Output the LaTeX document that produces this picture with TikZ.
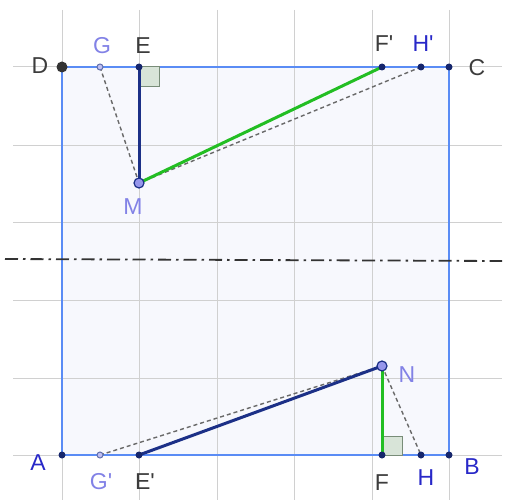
\documentclass[tikz,border=0pt]{standalone}
\usepackage{fontspec}
\setmainfont{Liberation Sans}
\definecolor{gridc}{RGB}{208,208,208}
\definecolor{sqline}{RGB}{90,140,245}
\definecolor{sqfill}{RGB}{247,248,253}
\definecolor{navy}{RGB}{28,48,135}
\definecolor{greenl}{RGB}{35,190,35}
\definecolor{dashc}{RGB}{105,105,105}
\definecolor{labdark}{RGB}{60,60,60}
\definecolor{labpurple}{RGB}{130,130,230}
\definecolor{labblue}{RGB}{40,40,200}
\definecolor{ptfill}{RGB}{150,150,235}
\definecolor{ranglefill}{RGB}{216,228,216}
\definecolor{rangledraw}{RGB}{120,140,120}
\tikzset{
  gridline/.style={draw=gridc, line width=1pt},
  sqborder/.style={draw=sqline, line width=2pt},
  navyseg/.style={draw=navy, line width=3pt},
  greenseg/.style={draw=greenl, line width=3pt},
  dashseg/.style={draw=dashc, line width=1.4pt, dash pattern=on 4pt off 3pt},
  axisline/.style={draw=black!80, line width=1.8pt, dash pattern=on 13pt off 5pt on 2.5pt off 5pt},
  dotsmall/.style={circle, fill=navy!80!black, inner sep=0pt, minimum size=7pt},
  dotbig/.style={circle, fill=black!80, inner sep=0pt, minimum size=11pt},
  dotpt/.style={circle, fill=ptfill, draw=navy, line width=1.2pt, inner sep=0pt, minimum size=10pt},
  dotopen/.style={circle, fill=ptfill!60, draw=navy!70, line width=1pt, inner sep=0pt, minimum size=6pt},
  rangle/.style={fill=ranglefill, draw=rangledraw, line width=1pt},
  lab/.style={inner sep=0pt, font=\fontsize{23}{27}\selectfont},
  labd/.style={lab, text=labdark},
  labp/.style={lab, text=labpurple},
  labb/.style={lab, text=labblue}
}
\begin{document}
\begin{tikzpicture}[x=1pt, y=-1pt]
\useasboundingbox (0,0) rectangle (505,500);
% points
\coordinate (A) at (62,455);
\coordinate (B) at (449,455);
\coordinate (C) at (449,67);
\coordinate (D) at (62,67);
\coordinate (G) at (100,67);
\coordinate (E) at (139,67);
\coordinate (Fp) at (382,67);
\coordinate (Hp) at (421,67);
\coordinate (M) at (139,183);
\coordinate (N) at (382,366);
\coordinate (F) at (382,455);
\coordinate (H) at (421,455);
\coordinate (Gp) at (100,455);
\coordinate (Ep) at (139,455);
\coordinate (axL) at (5,259);
\coordinate (axR) at (502,261);
% fill
\fill[sqfill] (A) rectangle (C);
% grid
\foreach \x in {62,139,217,294,372,449} \draw[gridline] (\x,10) -- (\x,500);
\foreach \y in {67,145,222,300,378,455} \draw[gridline] (13,\y) -- (502,\y);
% square
\draw[sqborder] (A) -- (B) -- (C) -- (D) -- cycle;
% axis
\draw[axisline] (axL) -- (axR);
% right angles
\draw[rangle] (E) rectangle ++(20,20);
\draw[rangle] (F) rectangle ++(20,-19);
% dashed
\draw[dashseg] (G) -- (M);
\draw[dashseg] (M) -- (Hp);
\draw[dashseg] (Gp) -- (N);
\draw[dashseg] (N) -- (H);
% segments
\draw[navyseg] (E) -- (M);
\draw[greenseg] (M) -- (Fp);
\draw[navyseg] (Ep) -- (N);
\draw[greenseg] (F) -- (N);
% dots
\node[dotbig] (nD) at (D) {};
\node[dotsmall] (nA) at (A) {};
\node[dotsmall] (nB) at (B) {};
\node[dotsmall] (nC) at (C) {};
\node[dotsmall] (nE) at (E) {};
\node[dotsmall] (nFp) at (Fp) {};
\node[dotsmall] (nHp) at (Hp) {};
\node[dotsmall] (nF) at (F) {};
\node[dotsmall] (nH) at (H) {};
\node[dotsmall] (nEp) at (Ep) {};
\node[dotopen] (nG) at (G) {};
\node[dotopen] (nGp) at (Gp) {};
\node[dotpt] (nM) at (M) {};
\node[dotpt] (nN) at (N) {};
% labels
\node[labd] (lD) at (40,66) {D};
\node[labp] (lG) at (102,46) {G};
\node[labd] (lE) at (143,46) {E};
\node[labd] (lFp) at (384,44) {F\textquotesingle};
\node[labb] (lHp) at (423,44) {H\textquotesingle};
\node[labd] (lC) at (477,68) {C};
\node[labp] (lM) at (133,207) {M};
\node[labp] (lN) at (407,375) {N};
\node[labb] (lA) at (38,463) {A};
\node[labp] (lGp) at (101,482) {G\textquotesingle};
\node[labd] (lEp) at (145,482) {E\textquotesingle};
\node[labd] (lF) at (382,483) {F};
\node[labb] (lH) at (426,478) {H};
\node[labb] (lB) at (472,467) {B};
\end{tikzpicture}
\end{document}
